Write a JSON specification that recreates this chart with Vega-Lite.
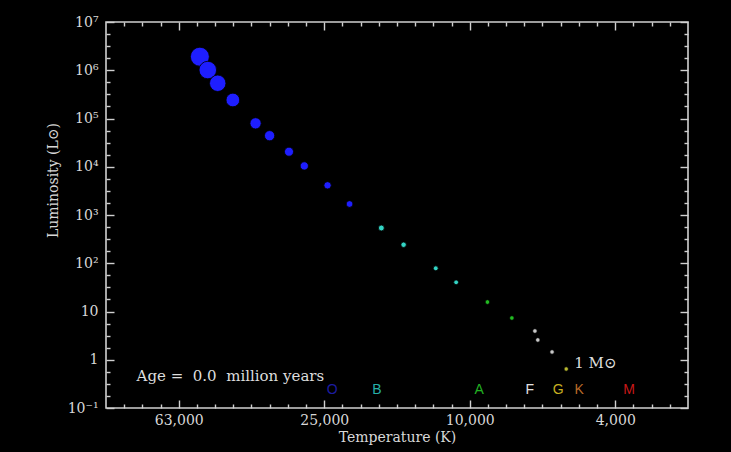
{
  "$schema": "https://vega.github.io/schema/vega-lite/v6.json",
  "width": 582,
  "height": 386,
  "autosize": "none",
  "padding": {"left": 106, "top": 22, "right": 43, "bottom": 44},
  "background": "#000000",
  "config": {
    "view": {"stroke": "#d0d0d0", "strokeWidth": 1.6},
    "axis": {
      "grid": false,
      "domain": false,
      "labelFont": "DejaVu Serif",
      "titleFont": "DejaVu Serif",
      "labelColor": "#d8d8d8",
      "titleColor": "#d8d8d8",
      "tickColor": "#d0d0d0",
      "labelFontSize": 14,
      "titleFontSize": 14,
      "titleFontWeight": "normal",
      "tickWidth": 1.4,
      "labelOverlap": false,
      "labelFlush": false,
      "labelBound": false
    }
  },
  "datasets": {
    "stars": [
      {"T": 55200, "L": 1910000, "mass": 120, "cls": "O"},
      {"T": 52500, "L": 1010000, "mass": 85, "cls": "O"},
      {"T": 49300, "L": 537000, "mass": 60, "cls": "O"},
      {"T": 44800, "L": 242000, "mass": 40, "cls": "O"},
      {"T": 38800, "L": 79400, "mass": 25, "cls": "O"},
      {"T": 35500, "L": 44000, "mass": 20, "cls": "O"},
      {"T": 31400, "L": 20500, "mass": 15, "cls": "O"},
      {"T": 28500, "L": 10400, "mass": 12, "cls": "O"},
      {"T": 24600, "L": 4120, "mass": 9, "cls": "O"},
      {"T": 21400, "L": 1690, "mass": 7, "cls": "O"},
      {"T": 17500, "L": 538, "mass": 5, "cls": "B"},
      {"T": 15200, "L": 242, "mass": 4, "cls": "B"},
      {"T": 12400, "L": 78.5, "mass": 3, "cls": "B"},
      {"T": 10900, "L": 40.3, "mass": 2.5, "cls": "B"},
      {"T": 8940, "L": 15.7, "mass": 2, "cls": "A"},
      {"T": 7660, "L": 7.33, "mass": 1.7, "cls": "A"},
      {"T": 6620, "L": 3.94, "mass": 1.5, "cls": "F"},
      {"T": 6500, "L": 2.57, "mass": 1.3, "cls": "F"},
      {"T": 5940, "L": 1.45, "mass": 1.1, "cls": "F"},
      {"T": 5430, "L": 0.643, "mass": 1.0, "cls": "G"}
    ],
    "classes": [
      {"cls": "O", "T": 23900, "L": 0.236},
      {"cls": "B", "T": 18000, "L": 0.236},
      {"cls": "A", "T": 9420, "L": 0.236},
      {"cls": "F", "T": 6840, "L": 0.236},
      {"cls": "G", "T": 5710, "L": 0.236},
      {"cls": "K", "T": 5000, "L": 0.236},
      {"cls": "M", "T": 3650, "L": 0.236}
    ],
    "notes": [
      {"text": "Age =\u00a0\u00a00.0\u00a0\u00a0million years", "T": 82400, "L": 0.46},
      {"text": "1 M\u2299", "T": 5160, "L": 0.857}
    ]
  },
  "layer": [
    {
      "data": {"name": "stars"},
      "mark": {"type": "circle", "opacity": 1, "stroke": "#000000", "strokeWidth": 0.8},
      "encoding": {
        "x": {
          "field": "T", "type": "quantitative",
          "scale": {"type": "log", "domain": [2511.886, 100000], "reverse": true, "nice": false},
          "axis": {
            "orient": "bottom",
            "values": [89125.09, 79432.82, 70794.58, 63095.73, 56234.13, 50118.72, 44668.36, 39810.72, 35481.34, 31622.78, 28183.83, 25118.86, 22387.21, 19952.62, 17782.79, 15848.93, 14125.38, 12589.25, 11220.18, 10000, 8912.509, 7943.282, 7079.458, 6309.573, 5623.413, 5011.872, 4466.836, 3981.072, 3548.134, 3162.278, 2818.383],
            "labelExpr": "abs(datum.value-63095.73)<1 ? '63,000' : abs(datum.value-25118.86)<1 ? '25,000' : abs(datum.value-10000)<1 ? '10,000' : abs(datum.value-3981.072)<1 ? '4,000' : ''",
            "tickSize": {"condition": {"test": "abs(datum.value-63095.73)<1 || abs(datum.value-25118.86)<1 || abs(datum.value-10000)<1 || abs(datum.value-3981.072)<1", "value": -8}, "value": -4},
            "labelPadding": 13,
            "title": "Temperature (K)",
            "titleY": 29,
            "titleBaseline": "middle"
          }
        },
        "y": {
          "field": "L", "type": "quantitative",
          "scale": {"type": "log", "domain": [0.1, 10000000], "nice": false},
          "axis": {
            "orient": "left",
            "values": [0.1, 0.17783, 0.31623, 0.56234, 1, 1.7783, 3.1623, 5.6234, 10, 17.783, 31.623, 56.234, 100, 177.83, 316.23, 562.34, 1000, 1778.3, 3162.3, 5623.4, 10000, 17783, 31623, 56234, 100000, 177828, 316228, 562341, 1000000, 1778279, 3162278, 5623413, 10000000],
            "labelExpr": "abs(log(datum.value)/LN10 - round(log(datum.value)/LN10)) < 0.01 ? ['10\u207b\u00b9','1','10','10\u00b2','10\u00b3','10\u2074','10\u2075','10\u2076','10\u2077'][round(log(datum.value)/LN10)+1] : ''",
            "tickSize": {"condition": {"test": "abs(log(datum.value)/LN10 - round(log(datum.value)/LN10)) < 0.01", "value": -8}, "value": -4},
            "labelPadding": 16,
            "title": "Luminosity  (L\u2299)",
            "titleX": -53,
            "titleY": 158,
            "titleAngle": -90,
            "titleAlign": "center",
            "titleBaseline": "middle"
          }
        },
        "size": {"field": "mass", "type": "quantitative", "scale": {"domain": [1, 3, 7, 20, 60, 120], "range": [20, 24, 45, 105, 270, 360]}, "legend": null},
        "color": {"field": "cls", "type": "nominal", "scale": {"domain": ["O", "B", "A", "F", "G"], "range": ["#1e1eff", "#33d4c4", "#22bb22", "#c8c8c8", "#b8b830"]}, "legend": null}
      }
    },
    {
      "data": {"name": "classes"},
      "mark": {"type": "text", "font": "Liberation Sans", "fontSize": 14, "baseline": "middle", "align": "center"},
      "encoding": {
        "x": {"field": "T", "type": "quantitative", "axis": null},
        "y": {"field": "L", "type": "quantitative", "axis": null},
        "text": {"field": "cls"},
        "color": {"field": "cls", "type": "nominal", "scale": {"domain": ["O", "B", "A", "F", "G", "K", "M"], "range": ["#1c1ca0", "#26b0a8", "#22b022", "#e0e0e0", "#c8b020", "#b86a28", "#c81818"]}, "legend": null}
      }
    },
    {
      "data": {"name": "notes"},
      "mark": {"type": "text", "font": "DejaVu Serif", "fontSize": 15, "baseline": "middle", "align": "left", "color": "#dddddd"},
      "encoding": {
        "x": {
          "field": "T", "type": "quantitative",
          "axis": {
            "orient": "top",
            "values": [89125.09, 79432.82, 70794.58, 63095.73, 56234.13, 50118.72, 44668.36, 39810.72, 35481.34, 31622.78, 28183.83, 25118.86, 22387.21, 19952.62, 17782.79, 15848.93, 14125.38, 12589.25, 11220.18, 10000, 8912.509, 7943.282, 7079.458, 6309.573, 5623.413, 5011.872, 4466.836, 3981.072, 3548.134, 3162.278, 2818.383],
            "labels": false,
            "title": null,
            "tickSize": {"condition": {"test": "abs(datum.value-63095.73)<1 || abs(datum.value-25118.86)<1 || abs(datum.value-10000)<1 || abs(datum.value-3981.072)<1", "value": -8}, "value": -4}
          }
        },
        "y": {
          "field": "L", "type": "quantitative",
          "axis": {
            "orient": "right",
            "values": [0.1, 0.17783, 0.31623, 0.56234, 1, 1.7783, 3.1623, 5.6234, 10, 17.783, 31.623, 56.234, 100, 177.83, 316.23, 562.34, 1000, 1778.3, 3162.3, 5623.4, 10000, 17783, 31623, 56234, 100000, 177828, 316228, 562341, 1000000, 1778279, 3162278, 5623413, 10000000],
            "labels": false,
            "title": null,
            "tickSize": {"condition": {"test": "abs(log(datum.value)/LN10 - round(log(datum.value)/LN10)) < 0.01", "value": -8}, "value": -4}
          }
        },
        "text": {"field": "text"}
      }
    }
  ],
  "resolve": {"axis": {"x": "independent", "y": "independent"}, "scale": {"color": "independent"}}
}
